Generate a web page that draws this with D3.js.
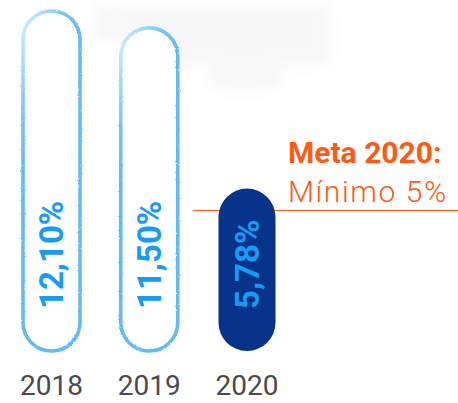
<!DOCTYPE html>
<html>
<head>
<meta charset="utf-8">
<script src="https://cdn.jsdelivr.net/npm/d3@7"></script>
<style>
  html, body { margin: 0; padding: 0; background: #fff; }
  svg { display: block; font-family: Roboto, "Liberation Sans", sans-serif; }
</style>
</head>
<body>
<svg id="chart" width="458" height="403"></svg>
<script>
// data
const years = ["2018", "2019", "2020"];
const values = [12.10, 11.50, 5.78];
const valueLabels = ["12,10%", "11,50%", "5,78%"];
const goalValue = 5;
const goalTitle = "Meta 2020:";
const goalText = "Mínimo 5%";

const svg = d3.select("#chart"),
      width = +svg.attr("width"),
      height = +svg.attr("height");

const data = years.map((y, i) => ({ year: y, value: values[i], label: valueLabels[i] }));

// scales
const x = d3.scalePoint().domain(years).range([51.5, 247]);
const y = d3.scaleLinear().domain([0, 12.1]).range([351, 11]);
const barW = 57;

const defs = svg.append("defs");

// faint smudge at the top
defs.append("filter").attr("id", "blur")
  .attr("x", "-20%").attr("y", "-50%").attr("width", "140%").attr("height", "200%")
  .append("feGaussianBlur").attr("stdDeviation", 8);

// rough brush edge
const rough = defs.append("filter").attr("id", "rough");
rough.append("feTurbulence")
  .attr("type", "fractalNoise").attr("baseFrequency", 0.6)
  .attr("numOctaves", 2).attr("seed", 3).attr("result", "noise");
rough.append("feDisplacementMap")
  .attr("in", "SourceGraphic").attr("in2", "noise")
  .attr("scale", 2.2).attr("xChannelSelector", "R").attr("yChannelSelector", "G");

const grad = defs.append("linearGradient").attr("id", "brush")
  .attr("x1", 0).attr("y1", 0).attr("x2", 0.2).attr("y2", 0.5);
grad.append("stop").attr("offset", 0).attr("stop-color", "#5fbcf8").attr("stop-opacity", 0.2);
grad.append("stop").attr("offset", 0.5).attr("stop-color", "#5fbcf8").attr("stop-opacity", 0.85);
grad.append("stop").attr("offset", 0.8).attr("stop-color", "#5fbcf8").attr("stop-opacity", 1);

const smudge = svg.append("g").attr("filter", "url(#blur)").attr("opacity", 0.45);
[[95, 5, 235, 35], [140, 40, 190, 25], [210, 68, 70, 22]].forEach(r => {
  smudge.append("rect")
    .attr("x", r[0]).attr("y", r[1]).attr("width", r[2]).attr("height", r[3])
    .attr("fill", "#ededed");
});

// goal line
svg.append("line")
  .attr("x1", 193).attr("x2", width)
  .attr("y1", y(goalValue)).attr("y2", y(goalValue))
  .attr("stroke", "#ff5a1a")
  .attr("stroke-width", 1.2);

// bars
svg.selectAll("rect.bar")
  .data(data)
  .enter()
  .append("rect")
  .attr("class", "bar")
  .attr("x", d => x(d.year) - barW / 2)
  .attr("y", d => y(d.value))
  .attr("width", barW)
  .attr("height", d => y(0) - y(d.value))
  .attr("rx", barW / 2)
  .attr("fill", (d, i) => i === data.length - 1 ? "#08338a" : "#fff")
  .attr("stroke", (d, i) => i === data.length - 1 ? "none" : "url(#brush)")
  .attr("stroke-width", 3.6)
  .attr("filter", (d, i) => i === data.length - 1 ? null : "url(#rough)");

// value labels (vertical)
svg.selectAll("text.val")
  .data(data)
  .enter()
  .append("text")
  .attr("class", "val")
  .attr("transform", d => `translate(${x(d.year)},${y(0) - 42}) rotate(-90)`)
  .attr("dy", "0.36em")
  .attr("text-anchor", "start")
  .attr("font-size", 33)
  .attr("font-weight", 700)
  .attr("fill", "#189bf3")
  .text(d => d.label);

// year labels
svg.selectAll("text.year")
  .data(data)
  .enter()
  .append("text")
  .attr("class", "year")
  .attr("x", d => x(d.year))
  .attr("y", 395)
  .attr("text-anchor", "middle")
  .attr("font-size", 28)
  .attr("font-weight", 400)
  .attr("fill", "#4a4a4a")
  .text(d => d.year);

// goal annotation
svg.append("text")
  .attr("x", 288).attr("y", 163)
  .attr("font-size", 30)
  .attr("font-weight", 700)
  .attr("fill", "#ff5a14")
  .text(goalTitle);

svg.append("text")
  .attr("x", 288).attr("y", 202)
  .attr("font-size", 30)
  .attr("font-weight", 300)
  .attr("letter-spacing", 1.6)
  .attr("fill", "#ff5a14")
  .text(goalText);
</script>
</body>
</html>
